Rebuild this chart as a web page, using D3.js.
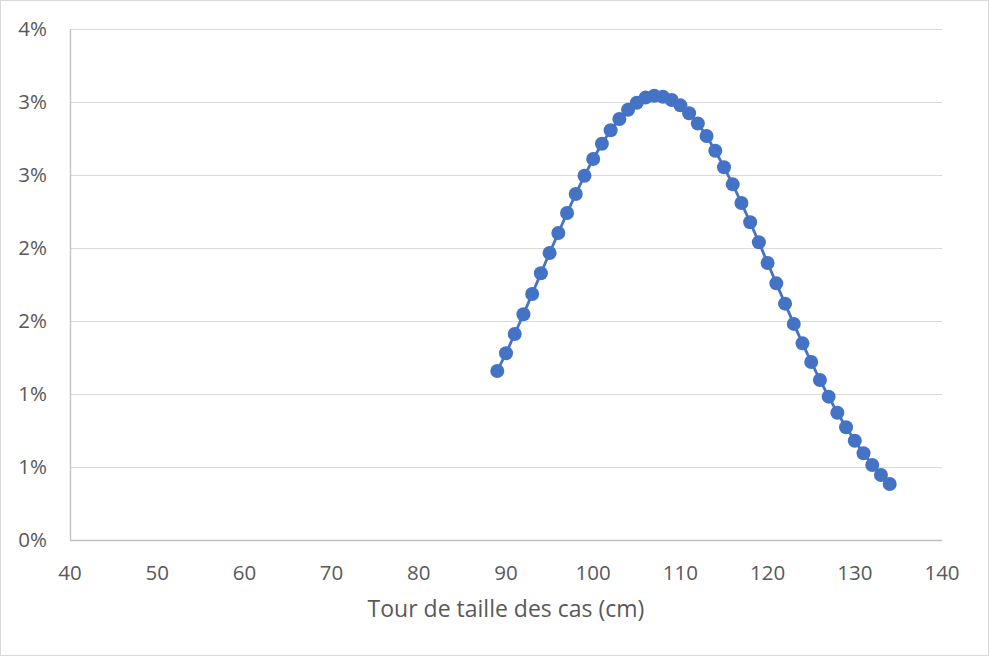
<!DOCTYPE html>
<html>
<head>
<meta charset="utf-8">
<script src="https://cdn.jsdelivr.net/npm/d3@7"></script>
<style>
html,body{margin:0;padding:0;background:#fff;}
svg{display:block;}
</style>
</head>
<body>
<svg id="chart" width="989" height="656"></svg>
<script>
// Data
const waist = [89,90,91,92,93,94,95,96,97,98,99,100,101,102,103,104,105,106,107,108,109,110,111,112,113,114,115,116,117,118,119,120,121,122,123,124,125,126,127,128,129,130,131,132,133,134];
const freq = [0.01158,0.01279,0.01411,0.01546,0.01685,0.01827,0.01966,0.02103,0.02240,0.02370,0.02495,0.02610,0.02714,0.02806,0.02884,0.02947,0.02995,0.03030,0.03043,0.03036,0.03014,0.02977,0.02923,0.02853,0.02767,0.02666,0.02553,0.02436,0.02308,0.02176,0.02039,0.01897,0.01758,0.01619,0.01480,0.01347,0.01219,0.01096,0.00982,0.00872,0.00772,0.00680,0.00594,0.00514,0.00445,0.00384];
const xTicks = [40,50,60,70,80,90,100,110,120,130,140];
const yTicks = [0,0.005,0.010,0.015,0.020,0.025,0.030,0.035];
const yTickLabels = ["0%","1%","1%","2%","2%","3%","3%","4%"];
const xTitle = "Tour de taille des cas (cm)";

(function(){
const svg = d3.select("#chart");
const W = 989, H = 656;
const mLeft = 70, mRight = 942, mTop = 29, mBottom = 540;
const font = "'Open Sans', 'Noto Sans', sans-serif";

svg.append("rect").attr("x",0.5).attr("y",0.5).attr("width",W-1).attr("height",H-1)
  .attr("fill","#fff").attr("stroke","#d9d9d9");

const x = d3.scaleLinear().domain([40,140]).range([mLeft,mRight]);
const y = d3.scaleLinear().domain([0,0.035]).range([mBottom,mTop]);

// gridlines
svg.append("g").selectAll("line").data(yTicks.filter(d=>d>0)).join("line")
  .attr("x1",mLeft).attr("x2",mRight)
  .attr("y1",d=>Math.round(y(d))+0.5).attr("y2",d=>Math.round(y(d))+0.5)
  .attr("stroke","#d9d9d9").attr("stroke-width",1);

// axes lines
svg.append("line").attr("x1",mLeft).attr("x2",mRight).attr("y1",mBottom+0.5).attr("y2",mBottom+0.5)
  .attr("stroke","#bfbfbf").attr("stroke-width",1.3);
svg.append("line").attr("x1",mLeft+0.5).attr("x2",mLeft+0.5).attr("y1",mTop).attr("y2",mBottom)
  .attr("stroke","#bfbfbf").attr("stroke-width",1.3);

// y tick labels
svg.append("g").selectAll("text").data(yTicks).join("text")
  .attr("x",47).attr("y",d=>y(d)).attr("dy","0.35em")
  .attr("text-anchor","end").attr("font-family",font).attr("font-size",20.5)
  .attr("fill","#595959").text((d,i)=>yTickLabels[i]);

// x tick labels
svg.append("g").selectAll("text").data(xTicks).join("text")
  .attr("x",d=>x(d)).attr("y",573).attr("dy","0.35em")
  .attr("text-anchor","middle").attr("font-family",font).attr("font-size",20.5)
  .attr("fill","#595959").text(d=>d);

// axis title
svg.append("text").attr("x",(mLeft+mRight)/2).attr("y",609).attr("dy","0.35em")
  .attr("text-anchor","middle").attr("font-family",font).attr("font-size",23)
  .attr("fill","#595959").text(xTitle);

const pts = waist.map((w,i)=>({w,f:freq[i]}));
svg.append("path").datum(pts)
  .attr("fill","none").attr("stroke","#4472C4").attr("stroke-width",2.8)
  .attr("d",d3.line().x(d=>x(d.w)).y(d=>y(d.f)));
svg.append("g").selectAll("circle").data(pts).join("circle")
  .attr("cx",d=>x(d.w)).attr("cy",d=>y(d.f)).attr("r",7)
  .attr("fill","#4472C4");
})();
</script>
</body>
</html>
